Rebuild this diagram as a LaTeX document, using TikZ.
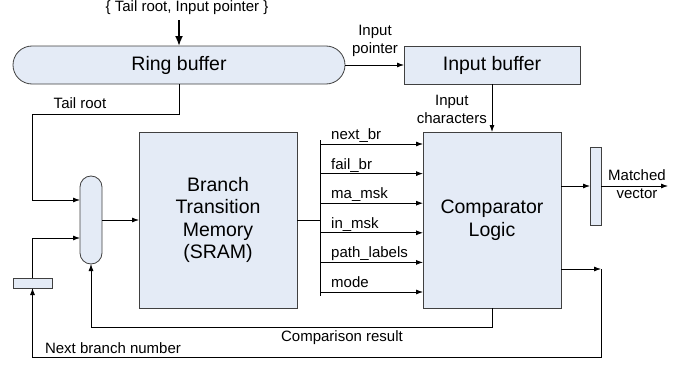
\documentclass[tikz,border=0pt]{standalone}
\usepackage{fontspec}
\setmainfont{Liberation Sans}
\usepackage{tikz}
\usetikzlibrary{arrows.meta}
\definecolor{boxfill}{RGB}{228,235,246}
\definecolor{boxline}{gray}{0.25}
\tikzset{
  blk/.style={draw=boxline,fill=boxfill,line width=0.8pt,inner sep=0pt,outer sep=0pt,font=\fontsize{19.5}{22.5}\selectfont,align=center},
  lab/.style={font=\fontsize{15}{18}\selectfont,inner sep=0pt,align=center},
  conn/.style={draw=black,line width=0.8pt,-{Latex[length=7pt,width=5pt]}},
  wire/.style={draw=black,line width=0.8pt},
}
\begin{document}
\begin{tikzpicture}[x=1pt,y=-1pt]
  \useasboundingbox (0,0) rectangle (686,372);
  % blocks
  \node[blk,rounded corners=19pt,minimum width=332pt,minimum height=38pt] (ring) at (179,65) {Ring buffer};
  \node[blk,minimum width=176pt,minimum height=38pt] (inbuf) at (492,65) {Input buffer};
  \node[blk,rounded corners=11pt,minimum width=22pt,minimum height=88pt] (mux) at (91,220) {};
  \node[blk,minimum width=158pt,minimum height=176pt] (btm) at (218,220) {Branch\\Transition\\Memory\\(SRAM)};
  \node[blk,minimum width=138pt,minimum height=176pt] (comp) at (492,220) {Comparator\\Logic};
  \node[blk,minimum width=11pt,minimum height=78pt] (outreg) at (595.5,186) {};
  \node[blk,minimum width=39pt,minimum height=10pt] (nbreg) at (32.5,283) {};
  % top input
  \node[lab] (toplab) at (187,8) {\{ Tail root, Input pointer \}};
  \coordinate (topin) at (179,20);
  \draw[line width=1.8pt,-{Latex[length=10pt,width=8pt]}] (topin) -- (ring.north);
  % ring buffer outputs
  \draw[conn] (ring) -- (inbuf);
  \node[lab] (iplab) at (375,41) {Input\\pointer};
  \draw[conn] (inbuf) -- (comp);
  \node[lab,anchor=east] (iclab) at (487,109) {Input\\characters};
  \coordinate (tailturn) at (32,114);
  \draw[conn] (ring.south) |- (tailturn) |- ([yshift=20pt]mux.west);
  \node[lab] (trlab) at (80,103) {Tail root};
  % mux and memory
  \draw[conn] (nbreg.north) |- ([yshift=-18pt]mux.west);
  \draw[conn] (mux) -- (btm);
  \coordinate (bustop) at (320,140);
  \coordinate (busbot) at (320,296);
  \draw[wire] (bustop) -- (busbot);
  \draw[wire] (btm.east) -- (btm.east -| bustop);
  \foreach \lab [count=\i] in {next\_br,fail\_br,ma\_msk,in\_msk,path\_labels,mode}{
    \coordinate (bus\i) at (320,{144+29.6*(\i-1)});
    \draw[conn] (bus\i) -- (comp.west |- bus\i);
    \node[lab,anchor=base west] (buslab\i) at (331,{139.5+29.6*(\i-1)}) {\lab};
  }
  % outputs
  \draw[conn] (comp.east |- outreg) -- (outreg);
  \coordinate (mvend) at (668,186);
  \draw[conn] (outreg) -- (mvend);
  \node[lab] (mvlab) at (637,184) {Matched\\vector};
  \coordinate (nbcorner) at (601,269);
  \coordinate (nbbot) at (601,357);
  \draw[conn] (comp.east |- nbcorner) -- (nbcorner);
  \draw[conn] (nbcorner) -- (nbbot) -| (nbreg.south);
  \node[lab] (nblab) at (113,348) {Next branch number};
  \coordinate (crturn) at (492,327);
  \draw[conn] (comp.south) -- (crturn) -| (mux.south);
  \node[lab] (crlab) at (342,338) {Comparison result};
\end{tikzpicture}
\end{document}
